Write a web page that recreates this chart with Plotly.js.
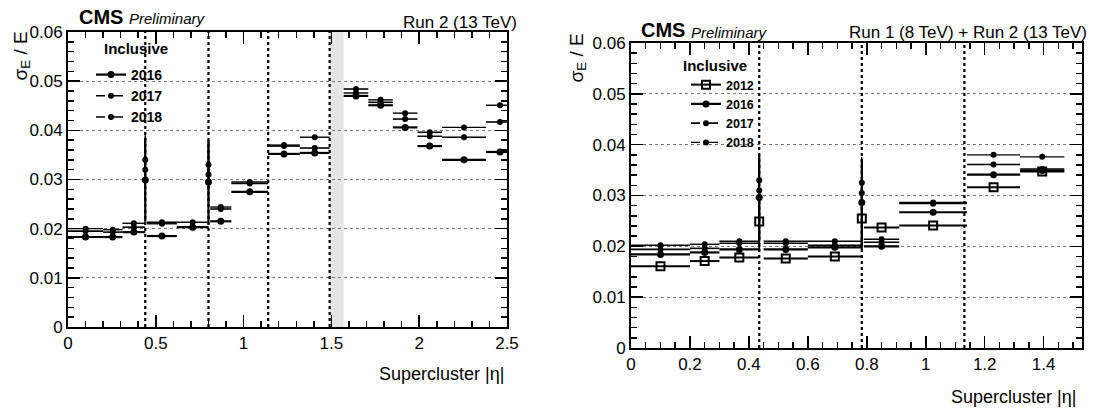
<!DOCTYPE html>
<html><head><meta charset="utf-8">
<script src="https://cdn.plot.ly/plotly-3.0.1.min.js"></script>
<style>html,body{margin:0;padding:0;background:#fff}#chart{width:1097px;height:414px}</style>
</head><body><div id="chart"></div>
<script>
// ---------- Left panel: Run 2 (13 TeV) ----------
const leftBinLo = [0.00, 0.20, 0.31, 0.45, 0.62, 0.81, 0.93, 1.14, 1.32, 1.57, 1.71, 1.85, 1.99, 2.13, 2.38];
const leftBinHi = [0.20, 0.31, 0.44, 0.62, 0.80, 0.93, 1.14, 1.32, 1.49, 1.71, 1.85, 1.99, 2.13, 2.38, 2.54];
const left2016  = [0.0183, 0.0183, 0.0193, 0.0185, 0.0203, 0.0215, 0.0275, 0.0352, 0.0354, 0.0470, 0.0451, 0.0406, 0.0368, 0.0340, 0.0356];
const left2017  = [0.0195, 0.0193, 0.0203, 0.0213, 0.0213, 0.0240, 0.0295, 0.0368, 0.0364, 0.0484, 0.0457, 0.0423, 0.0396, 0.0386, 0.0417];
const left2018  = [0.0200, 0.0198, 0.0211, 0.0210, 0.0203, 0.0244, 0.0292, 0.0370, 0.0386, 0.0476, 0.0462, 0.0435, 0.0388, 0.0406, 0.0451];
const leftCrackEta = [0.44, 0.80];
const leftCrack2016 = [0.0299, 0.0295];
const leftCrack2017 = [0.0340, 0.0330];
const leftCrack2018 = [0.0320, 0.0310];
const leftCrackErr2016 = [0.0085, 0.0085];
const leftCrackErr2017 = [0.0050, 0.0050];
const leftCrackErr2018 = [0.0060, 0.0060];
const leftModuleEdges = [0.44, 0.80, 1.14, 1.49];
const leftGap = [1.49, 1.57];

// ---------- Right panel: Run 1 (8 TeV) + Run 2 (13 TeV) ----------
const rightBinLo = [0.00, 0.20, 0.30, 0.45, 0.60, 0.79, 0.91, 1.14, 1.32];
const rightBinHi = [0.20, 0.30, 0.435, 0.60, 0.783, 0.91, 1.14, 1.32, 1.47];
const right2012  = [0.0161, 0.0171, 0.0178, 0.0176, 0.0180, 0.0237, 0.0241, 0.0316, 0.0347];
const right2016  = [0.0184, 0.0188, 0.0194, 0.0194, 0.0198, 0.0200, 0.0267, 0.0341, 0.0349];
const right2017  = [0.0194, 0.0196, 0.0206, 0.0210, 0.0210, 0.0208, 0.0286, 0.0361, 0.0352];
const right2018  = [0.0202, 0.0204, 0.0210, 0.0206, 0.0202, 0.0214, 0.0284, 0.0380, 0.0376];
const rightCrackEta = [0.435, 0.783];
const rightCrack2012 = [0.0249, 0.0255];
const rightCrack2016 = [0.0296, 0.0286];
const rightCrack2017 = [0.0330, 0.0325];
const rightCrack2018 = [0.0310, 0.0305];
const rightCrackErr2012 = [0.0060, 0.0060];
const rightCrackErr2016 = [0.0085, 0.0085];
const rightCrackErr2017 = [0.0050, 0.0050];
const rightCrackErr2018 = [0.0060, 0.0060];
const rightModuleEdges = [0.435, 0.783, 1.131];

const FONT = 'Liberation Sans, Arial, Helvetica, sans-serif';

function series(name, lo, hi, vals, cEta, cVals, cErr, st, xa, ya, lg) {
  const xs = [], ys = [], ex = [], ey = [];
  for (let i = 0; i < vals.length; i++) {
    xs.push((lo[i] + hi[i]) / 2, null); ys.push(vals[i], null);
    ex.push((hi[i] - lo[i]) / 2, 0); ey.push(0, 0);
  }
  for (let i = 0; i < cVals.length; i++) {
    xs.push(cEta[i], null); ys.push(cVals[i], null);
    ex.push(0, 0); ey.push(cErr[i], 0);
  }
  return {
    type: 'scatter', mode: 'lines+markers', name: name, x: xs, y: ys,
    xaxis: xa, yaxis: ya, legend: lg, connectgaps: false,
    line: {color: 'black', width: st.lw, dash: st.dash},
    marker: {color: 'black', size: st.size, symbol: st.symbol, line: {color: 'black', width: st.mlw || 0}},
    error_x: {type: 'data', array: ex, symmetric: true, color: 'black', thickness: st.lw, width: 0},
    error_y: {type: 'data', array: ey, symmetric: true, color: 'black', thickness: st.lw, width: 0},
    hoverinfo: 'skip'
  };
}
const S2012 = {lw: 2, dash: 'solid', size: 8, symbol: 'square-open', mlw: 2};
const S2016 = {lw: 2.2, dash: 'solid', size: 7, symbol: 'circle'};
const S2017 = {lw: 1.6, dash: 'dash', size: 6, symbol: 'circle'};
const S2018 = {lw: 1.4, dash: 'dashdot', size: 6, symbol: 'circle'};

const data = [
  series('2016', leftBinLo, leftBinHi, left2016, leftCrackEta, leftCrack2016, leftCrackErr2016, S2016, 'x', 'y', 'legend'),
  series('2017', leftBinLo, leftBinHi, left2017, leftCrackEta, leftCrack2017, leftCrackErr2017, S2017, 'x', 'y', 'legend'),
  series('2018', leftBinLo, leftBinHi, left2018, leftCrackEta, leftCrack2018, leftCrackErr2018, S2018, 'x', 'y', 'legend'),
  series('2012', rightBinLo, rightBinHi, right2012, rightCrackEta, rightCrack2012, rightCrackErr2012, S2012, 'x2', 'y2', 'legend2'),
  series('2016', rightBinLo, rightBinHi, right2016, rightCrackEta, rightCrack2016, rightCrackErr2016, S2016, 'x2', 'y2', 'legend2'),
  series('2017', rightBinLo, rightBinHi, right2017, rightCrackEta, rightCrack2017, rightCrackErr2017, S2017, 'x2', 'y2', 'legend2'),
  series('2018', rightBinLo, rightBinHi, right2018, rightCrackEta, rightCrack2018, rightCrackErr2018, S2018, 'x2', 'y2', 'legend2')
];

const W = 1097, H = 414;
const px = v => v / W, py = v => 1 - v / H;

function axisBase(extra) {
  return Object.assign({
    showline: true, linecolor: 'black', linewidth: 2, mirror: 'allticks',
    ticks: 'inside', ticklen: 12, tickwidth: 1.5, tickcolor: 'black',
    zeroline: false, fixedrange: true,
    tickfont: {family: FONT, size: 17, color: 'black'}
  }, extra);
}

const shapes = [];
leftModuleEdges.forEach(e => shapes.push({type: 'line', xref: 'x', yref: 'y domain', x0: e, x1: e, y0: 0, y1: 1,
  line: {color: 'black', width: 2.2, dash: 'dot'}, layer: 'above'}));
shapes.push({type: 'rect', xref: 'x', yref: 'y domain', x0: leftGap[0], x1: leftGap[1], y0: 0, y1: 1,
  fillcolor: 'rgba(0,0,0,0.10)', line: {width: 0}, layer: 'below'});
rightModuleEdges.forEach(e => shapes.push({type: 'line', xref: 'x2', yref: 'y2 domain', x0: e, x1: e, y0: 0, y1: 1,
  line: {color: 'black', width: 2.2, dash: 'dot'}, layer: 'above'}));

function ann(text, x, y, size, opts) {
  return Object.assign({text: text, xref: 'paper', yref: 'paper', x: px(x), y: py(y), showarrow: false,
    xanchor: 'left', yanchor: 'middle', font: {family: FONT, size: size, color: 'black'}}, opts || {});
}

const annotations = [
  ann('<b>CMS</b>', 77, 17, 20),
  ann('<i>Preliminary</i>', 127, 19, 15),
  ann('Run 2 (13 TeV)', 519, 22, 17, {xanchor: 'right'}),
  ann('σ<sub>E</sub> / E', 21, 30, 19, {textangle: -90, xanchor: 'center', yanchor: 'top'}),
  ann('Supercluster |η|', 506, 374, 18, {xanchor: 'right'}),
  ann('<b>Inclusive</b>', 102, 49, 15),

  ann('<b>CMS</b>', 639, 30, 20),
  ann('<i>Preliminary</i>', 689, 32, 15),
  ann('Run 1 (8 TeV) + Run 2 (13 TeV)', 1089, 32, 17, {xanchor: 'right'}),
  ann('σ<sub>E</sub> / E', 577, 32, 19, {textangle: -90, xanchor: 'center', yanchor: 'top'}),
  ann('Supercluster |η|', 1078, 397, 18, {xanchor: 'right'}),
  ann('<b>Inclusive</b>', 681, 65, 15)
];

const legendBase = {bgcolor: 'rgba(0,0,0,0)', borderwidth: 0, xanchor: 'left', yanchor: 'top',
  font: {family: FONT, size: 14, color: 'black', weight: 'bold'}, tracegroupgap: 0, itemclick: false, itemdoubleclick: false};

const layout = {
  width: W, height: H, margin: {l: 0, r: 0, t: 0, b: 0},
  paper_bgcolor: 'white', plot_bgcolor: 'white', showlegend: true,
  xaxis: axisBase({domain: [px(68), px(507)], range: [0, 2.5], dtick: 0.5, anchor: 'y', showgrid: false,
    minor: {ticks: 'inside', ticklen: 6, tickcolor: 'black', dtick: 0.1, showgrid: false}}),
  yaxis: axisBase({domain: [py(327), py(32)], range: [0, 0.06], dtick: 0.01, anchor: 'x',
    showgrid: true, gridcolor: '#777', gridwidth: 1, griddash: 'dot',
    minor: {ticks: 'inside', ticklen: 6, tickcolor: 'black', dtick: 0.002, showgrid: false}}),
  xaxis2: axisBase({domain: [px(631), px(1082)], range: [0, 1.53], dtick: 0.2, anchor: 'y2', showgrid: false,
    minor: {ticks: 'inside', ticklen: 6, tickcolor: 'black', dtick: 0.05, showgrid: false}}),
  yaxis2: axisBase({domain: [py(348), py(43)], range: [0, 0.06], dtick: 0.01, anchor: 'x2',
    showgrid: true, gridcolor: '#777', gridwidth: 1, griddash: 'dot',
    minor: {ticks: 'inside', ticklen: 6, tickcolor: 'black', dtick: 0.002, showgrid: false}}),
  legend: Object.assign({}, legendBase, {x: px(91), y: py(59)}),
  legend2: Object.assign({}, legendBase, {x: px(686), y: py(70), font: {family: FONT, size: 12.5, color: 'black', weight: 'bold'}}),
  shapes: shapes,
  annotations: annotations
};

Plotly.newPlot('chart', data, layout, {staticPlot: true, displayModeBar: false});
</script></body></html>
